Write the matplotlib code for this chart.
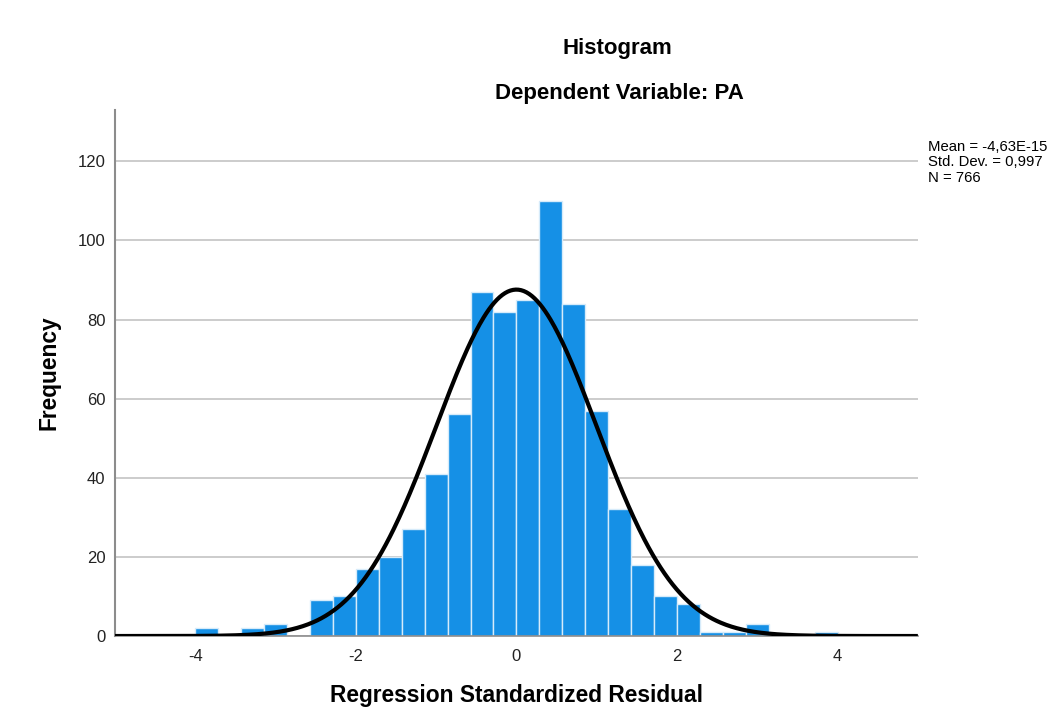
import numpy as np
import matplotlib.pyplot as plt

plt.rcParams['font.family'] = ['Liberation Sans', 'DejaVu Sans']
plt.rcParams['axes.unicode_minus'] = False

# Residual histogram: bin edges every 2/7 from -4 to 4
bin_width = 2 / 7
bin_left = np.arange(-14, 14) * bin_width
counts = [2, 0, 2, 3, 0, 9, 10, 17, 20, 27, 41, 56, 87, 82,
          85, 110, 84, 57, 32, 18, 10, 8, 1, 1, 3, 0, 0, 1]

# Summary statistics shown in the corner
mean = -4.63e-15
std = 0.997
n = 766

fig = plt.figure(figsize=(10.55, 7.23), dpi=100)
ax = fig.add_axes([0.109, 0.1203, 0.761, 0.7277])

ax.bar(bin_left, counts, width=bin_width, align='edge',
       color='#1590e6', edgecolor='#d6ebfa', linewidth=1.0, zorder=2)

# Normal curve scaled to counts
xs = np.linspace(-5, 5, 600)
ys = n * bin_width / (std * np.sqrt(2 * np.pi)) * np.exp(-0.5 * ((xs - mean) / std) ** 2)
ax.plot(xs, ys, color='black', linewidth=3.0, zorder=3, solid_capstyle='butt')

ax.set_xlim(-5, 5)
ax.set_ylim(0, 133)
ax.set_xticks([-4, -2, 0, 2, 4])
ax.set_yticks([0, 20, 40, 60, 80, 100, 120])
ax.tick_params(length=0, labelsize=12, colors='#222222', pad=7)
ax.tick_params(axis='x', pad=9)
ax.yaxis.grid(True, color='#cccccc', linewidth=1.4, zorder=0)
ax.set_axisbelow(True)

for side in ['top', 'right']:
    ax.spines[side].set_visible(False)
ax.spines['left'].set_color('#8c8c8c')
ax.spines['left'].set_linewidth(1.5)
ax.spines['bottom'].set_color('#8c8c8c')
ax.spines['bottom'].set_linewidth(1.2)

ax.set_xlabel('Regression Standardized Residual', fontsize=16.4, fontweight='bold', labelpad=15)
ax.set_ylabel('Frequency', fontsize=16.4, fontweight='bold', labelpad=12)

fig.text(0.585, 0.933, 'Histogram', ha='center', va='center', fontsize=16, fontweight='bold')
fig.text(0.587, 0.870, 'Dependent Variable: PA', ha='center', va='center', fontsize=16, fontweight='bold')

stats = 'Mean = -4,63E-15\nStd. Dev. = 0,997\nN = %d' % n
fig.text(0.880, 0.807, stats, ha='left', va='top', fontsize=10.7, linespacing=1.15)

plt.savefig('out.png')
